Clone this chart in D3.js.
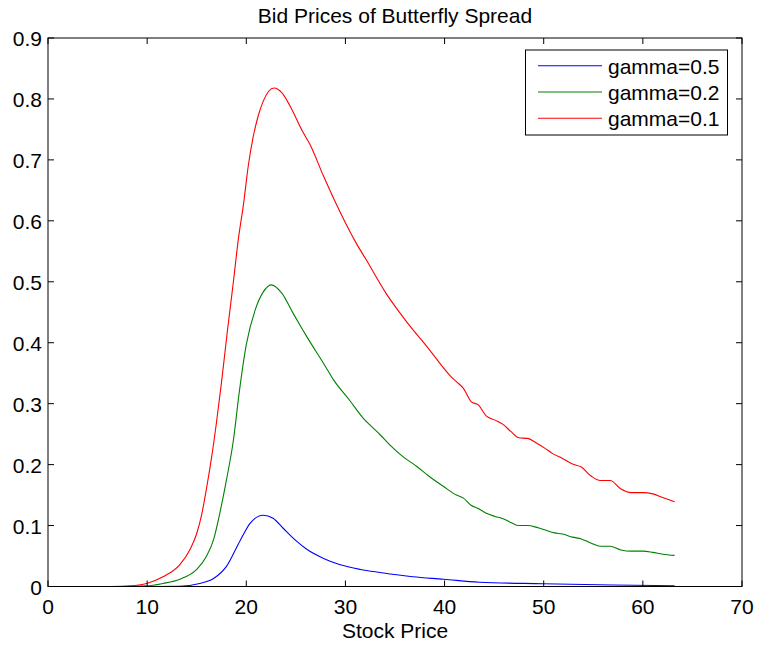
<!DOCTYPE html>
<html><head><meta charset="utf-8">
<script src="https://cdn.jsdelivr.net/npm/d3@7"></script>
<style>body{margin:0;background:#fff}svg{display:block}text{font-family:"Liberation Sans",Arial,sans-serif}</style>
</head><body><svg id="c" width="759" height="648"></svg>
<script>
const titleText = "Bid Prices of Butterfly Spread";
const xLabel = "Stock Price";
const xTicks = [0,10,20,30,40,50,60,70];
const yTicks = [0,0.1,0.2,0.3,0.4,0.5,0.6,0.7,0.8,0.9];
const seriesNames = ["gamma=0.5","gamma=0.2","gamma=0.1"];
const seriesColors = ["#0000ff","#008000","#ff0000"];

const blueX = [2.5,10,13.3,15.3,16.7,18.0,19.4,20.4,21.7,22.7,23.7,25.1,26.1,27.8,29.4,31.5,33.5,36.8,39.9,43.5,49.9,57,63.2];
const blueY = [0,0,0.0005,0.005,0.013,0.033,0.076,0.104,0.117,0.112,0.096,0.074,0.061,0.046,0.036,0.028,0.023,0.016,0.012,0.007,0.0046,0.0025,0.0013];

const greenX = [2.5,7,10,11.6,13.3,15.0,16.0,16.7,17.3,18.0,18.7,19.3,20.0,20.9,21.7,22.5,23.6,24.7,25.7,26.1,27.8,28.8,30.4,31.8,32.8,33.5,34.5,35.8,37.2,38.5,39.9,41.2,41.9,42.7,43.4,44.2,45.1,45.9,46.7,47.5,48.4,49.3,50.1,51.1,51.9,52.9,53.8,54.8,55.7,56.7,57.8,58.8,60.0,61.0,62.0,63.2];
const greenY = [0,0,0.001,0.005,0.012,0.028,0.05,0.077,0.118,0.175,0.24,0.32,0.397,0.454,0.483,0.495,0.481,0.449,0.421,0.41,0.366,0.339,0.306,0.276,0.26,0.249,0.232,0.213,0.197,0.18,0.164,0.15,0.145,0.133,0.128,0.12,0.115,0.111,0.105,0.1,0.1,0.097,0.093,0.088,0.086,0.081,0.078,0.071,0.066,0.066,0.06,0.058,0.058,0.056,0.053,0.051];

const redX = [2.5,5,7.5,9,9.95,11.6,13.3,14.3,15.0,15.5,16.0,16.5,17.0,17.5,18.1,18.7,19.2,19.7,20.2,20.7,21.2,21.7,22.8,23.6,24.4,25.7,26.4,27.8,28.8,31.1,32.1,34.1,36.0,38.5,40.5,41.2,41.9,42.7,43.4,44.2,45.1,45.9,46.7,47.5,48.4,49.3,50.1,50.9,51.9,52.9,53.8,54.8,55.7,56.7,57.8,58.8,60.0,61.0,62.0,63.2];
const redY = [0,0,0.0005,0.002,0.005,0.016,0.036,0.06,0.087,0.118,0.162,0.212,0.27,0.335,0.42,0.5,0.57,0.625,0.69,0.738,0.772,0.796,0.818,0.81,0.789,0.746,0.726,0.673,0.637,0.563,0.536,0.481,0.438,0.388,0.347,0.336,0.325,0.303,0.298,0.28,0.273,0.266,0.254,0.244,0.243,0.235,0.227,0.218,0.21,0.201,0.196,0.181,0.174,0.174,0.16,0.154,0.154,0.152,0.146,0.139];

const series = [
  {name: seriesNames[0], color: seriesColors[0], xs: blueX, ys: blueY},
  {name: seriesNames[1], color: seriesColors[1], xs: greenX, ys: greenY},
  {name: seriesNames[2], color: seriesColors[2], xs: redX, ys: redY}
];

const L = 48, R = 742, T = 38, B = 586.5;
const svg = d3.select("#c");
svg.append("rect").attr("width",759).attr("height",648).attr("fill","#fff");
const x = d3.scaleLinear().domain([0,70]).range([L,R]);
const y = d3.scaleLinear().domain([0,0.9]).range([B,T]);
const fs = 21;

// lines
const line = d3.line().x(d=>x(d[0])).y(d=>y(d[1])).curve(d3.curveMonotoneX);
series.forEach(s=>{
  svg.append("path").datum(s.xs.map((v,i)=>[v,s.ys[i]]))
    .attr("d",line).attr("fill","none").attr("stroke",s.color).attr("stroke-width",1.1);
});

// axes (MATLAB-style box with inward ticks)
const ax = svg.append("g").attr("stroke","#000").attr("stroke-width",1);
ax.append("rect").attr("x",L).attr("y",T).attr("width",R-L).attr("height",B-T).attr("fill","none");
xTicks.forEach(t=>{
  ax.append("line").attr("x1",x(t)).attr("x2",x(t)).attr("y1",B).attr("y2",B-6);
  ax.append("line").attr("x1",x(t)).attr("x2",x(t)).attr("y1",T).attr("y2",T+6);
  svg.append("text").attr("x",x(t)).attr("y",B+27).attr("text-anchor","middle")
    .attr("font-size",fs).text(d3.format("d")(t));
});
yTicks.forEach(t=>{
  ax.append("line").attr("x1",L).attr("x2",L+6).attr("y1",y(t)).attr("y2",y(t));
  ax.append("line").attr("x1",R).attr("x2",R-6).attr("y1",y(t)).attr("y2",y(t));
  svg.append("text").attr("x",L-6).attr("y",y(t)+8).attr("text-anchor","end")
    .attr("font-size",fs).text(t===0?"0":d3.format(".1f")(t));
});

// title and label
svg.append("text").attr("x",(L+R)/2).attr("y",23).attr("text-anchor","middle").attr("font-size",fs).text(titleText);
svg.append("text").attr("x",(L+R)/2).attr("y",638).attr("text-anchor","middle").attr("font-size",fs).text(xLabel);

// legend
const lg = svg.append("g");
lg.append("rect").attr("x",525.5).attr("y",50).attr("width",202).attr("height",85)
  .attr("fill","#fff").attr("stroke","#000").attr("stroke-width",1);
series.forEach((s,i)=>{
  const cy = 65.7 + i*26.3;
  lg.append("line").attr("x1",538).attr("x2",602).attr("y1",cy).attr("y2",cy).attr("stroke",s.color).attr("stroke-width",1.1);
  lg.append("text").attr("x",608).attr("y",cy+8).attr("font-size",fs).text(s.name);
});
</script></body></html>
